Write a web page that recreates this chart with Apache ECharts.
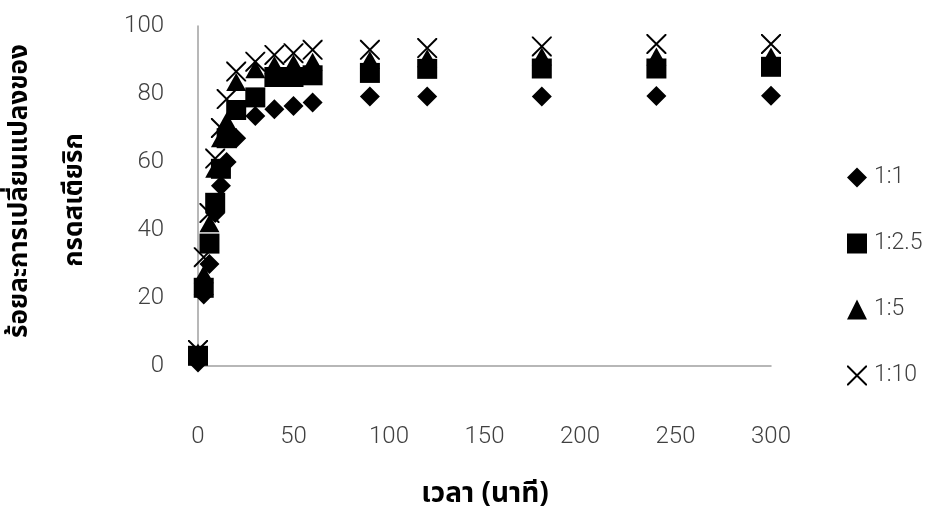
<!DOCTYPE html>
<html><head><meta charset="utf-8">
<script src="https://cdn.jsdelivr.net/npm/echarts@6/dist/echarts.min.js"></script>
<style>html,body{margin:0;padding:0;background:#fff}#c{width:929px;height:513px}</style>
</head><body><div id="c"></div>
<script>
var times = [0, 3, 6, 9, 12, 15, 20, 30, 40, 50, 60, 90, 120, 180, 240, 300];
var r1_1   = [1, 21, 30, 45, 53, 60, 67, 73.5, 75.5, 76.5, 77.5, 79.3, 79.3, 79.3, 79.4, 79.5];
var r1_2_5 = [3, 23, 36, 48, 58, 67, 75.3, 79, 85, 85, 85.5, 86.2, 87.4, 87.5, 87.5, 88];
var r1_5   = [4, 27, 42, 58, 67, 72, 83.5, 87.3, 88.5, 89, 89.5, 90, 90.5, 91, 91, 91];
var r1_10  = [4.7, 32, 45, 61, 70, 78.5, 86.6, 89.5, 91.5, 92, 93, 93, 93.5, 94, 94.7, 94.7];
var seriesNames = ['1:1', '1:2.5', '1:5', '1:10'];
var xTicks = [0, 50, 100, 150, 200, 250, 300];
var yTicks = [0, 20, 40, 60, 80, 100];

function pairs(v){ return times.map(function(t,i){ return [t, v[i]]; }); }
var crossPath = 'path://M0,0 L0.7,0 L10,9.3 L10,10 L9.3,10 L0,0.7 Z M10,0 L10,0.7 L0.7,10 L0,10 L0,9.3 L9.3,0 Z';
var numFont = 'Roboto, "Liberation Sans", sans-serif';
var thaiFont = '"Noto Sans Thai", "Noto Sans", "DejaVu Sans", sans-serif';
var mk = {color: '#000', opacity: 1};

var chart = echarts.init(document.getElementById('c'), null, {renderer:'canvas'});
chart.setOption({
  animation: false,
  backgroundColor: '#fff',
  grid: {left: 198, right: 158, top: 26, bottom: 147},
  xAxis: {
    type: 'value', min: 0, max: 300, interval: 50,
    axisLine: {show: true, lineStyle: {color: '#a0a0a0', width: 1.5}},
    axisTick: {show: false}, splitLine: {show: false},
    axisLabel: {margin: 59, color: '#404040', fontSize: 24, fontFamily: numFont, fontWeight: 300,
      formatter: function(v){ return xTicks.indexOf(v) >= 0 ? String(v) : ''; }}
  },
  yAxis: {
    type: 'value', min: 0, max: 100, interval: 20,
    axisLine: {show: true, lineStyle: {color: '#a0a0a0', width: 1.5}},
    axisTick: {show: false}, splitLine: {show: false},
    axisLabel: {margin: 34, color: '#404040', fontSize: 24, fontFamily: numFont, fontWeight: 300,
      formatter: function(v){ return yTicks.indexOf(v) >= 0 ? String(v) : ''; }}
  },
  legend: {
    orient: 'vertical', left: 842, top: 161, itemWidth: 20, itemHeight: 20, itemGap: 43,
    textStyle: {color: '#404040', fontSize: 23, fontFamily: numFont, fontWeight: 300, padding: [0,0,0,2]},
    data: seriesNames
  },
  series: [
    {name: seriesNames[0], type: 'scatter', symbol: 'diamond', symbolSize: 20, itemStyle: mk, data: pairs(r1_1)},
    {name: seriesNames[1], type: 'scatter', symbol: 'rect', symbolSize: 20, itemStyle: mk, data: pairs(r1_2_5)},
    {name: seriesNames[2], type: 'scatter', symbol: 'triangle', symbolSize: [20, 18], itemStyle: mk, data: pairs(r1_5)},
    {name: seriesNames[3], type: 'scatter', symbol: crossPath, symbolSize: 20, itemStyle: mk, data: pairs(r1_10)}
  ],
  graphic: [
    {type: 'text', x: 22, y: 191, rotation: Math.PI/2,
      style: {text: 'ร้อยละการเปลี่ยนแปลงของ', font: 'bold 26px ' + thaiFont, fill: '#000',
        align: 'center', verticalAlign: 'middle', textAlign: 'center', textVerticalAlign: 'middle'}},
    {type: 'text', x: 77, y: 200, rotation: Math.PI/2,
      style: {text: 'กรดสเตียริก', font: 'bold 26px ' + thaiFont, fill: '#000',
        align: 'center', verticalAlign: 'middle', textAlign: 'center', textVerticalAlign: 'middle'}},
    {type: 'text', x: 485, y: 496,
      style: {text: 'เวลา (นาที)', font: 'bold 28px ' + thaiFont, fill: '#000',
        align: 'center', verticalAlign: 'middle', textAlign: 'center', textVerticalAlign: 'middle'}}
  ]
});
</script></body></html>
